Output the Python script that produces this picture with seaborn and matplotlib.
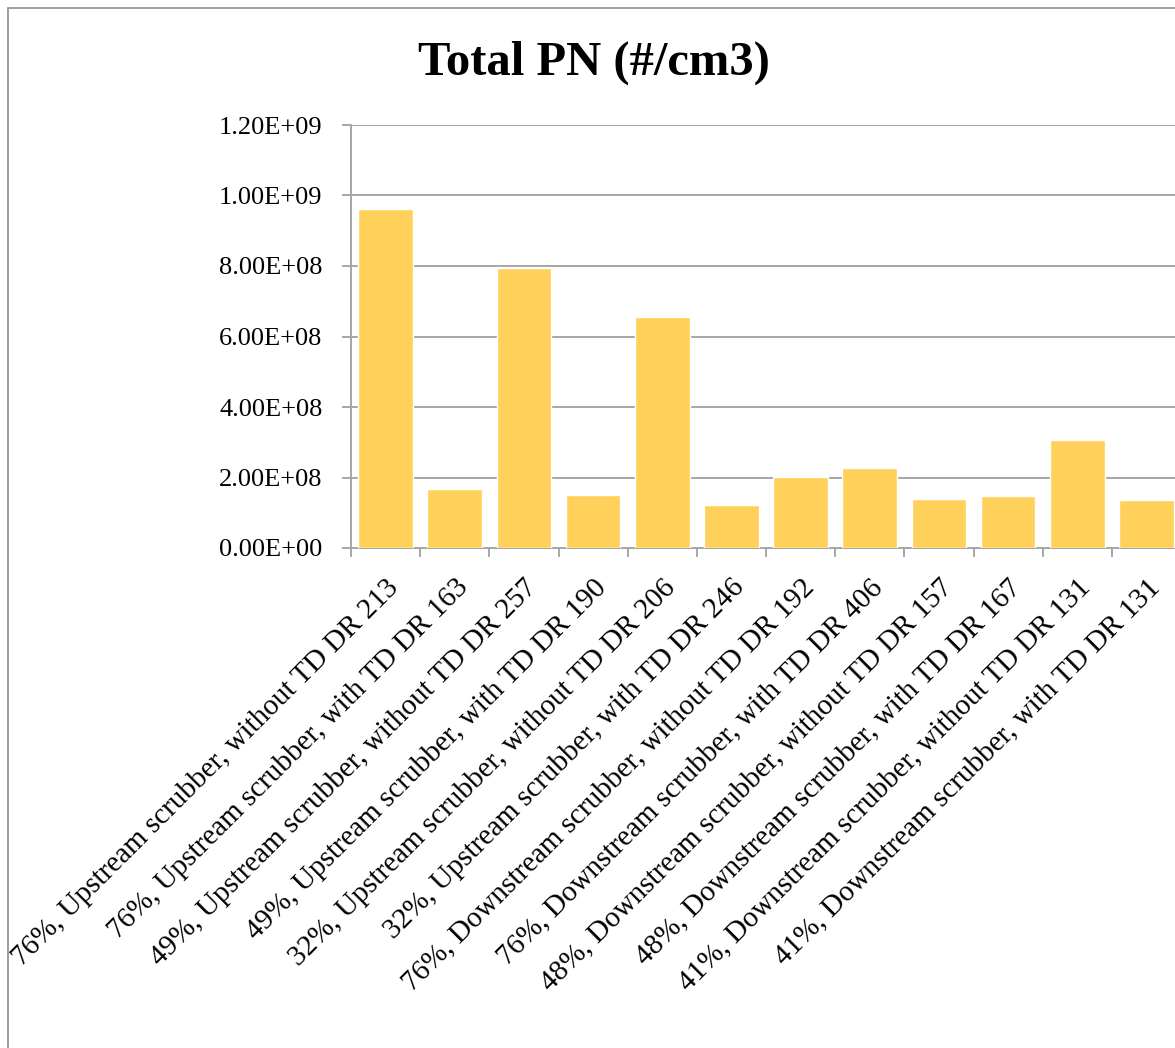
import numpy as np
import pandas as pd
import matplotlib
matplotlib.use("Agg")
import matplotlib.pyplot as plt
from matplotlib.patches import Rectangle
from matplotlib.ticker import FuncFormatter, MultipleLocator
import seaborn as sns

# Test conditions (engine load, scrubber position, thermodenuder, dilution ratio)
conditions = [
    "76%, Upstream scrubber, without TD DR 213",
    "76%, Upstream scrubber, with TD DR 163",
    "49%, Upstream scrubber, without TD DR 257",
    "49%, Upstream scrubber, with TD DR 190",
    "32%, Upstream scrubber, without TD DR 206",
    "32%, Upstream scrubber, with TD DR 246",
    "76%, Downstream scrubber, without TD DR 192",
    "76%, Downstream scrubber, with TD DR 406",
    "48%, Downstream scrubber, without TD DR 157",
    "48%, Downstream scrubber, with TD DR 167",
    "41%, Downstream scrubber, without TD DR 131",
    "41%, Downstream scrubber, with TD DR 131",
]

# Total particle number concentration (#/cm3)
total_pn = [
    9.62e8, 1.68e8, 7.94e8, 1.51e8, 6.56e8, 1.21e8,
    2.02e8, 2.27e8, 1.39e8, 1.47e8, 3.07e8, 1.36e8,
]

df = pd.DataFrame({"condition": conditions, "pn": total_pn})

sns.set_theme(style="white")
plt.rcParams["font.family"] = ["Liberation Serif", "DejaVu Serif"]

W, H = 1175, 1048
fig = plt.figure(figsize=(W / 100, H / 100), dpi=100)
fig.patch.set_facecolor("white")

# Plot area runs slightly past the right edge of the canvas
ax = fig.add_axes([351 / W, 1 - 548 / H, 830 / W, 423 / H])

bar_color = "#FFD05A"
grid_color = "#A6A6A6"

sns.barplot(data=df, x="condition", y="pn", color=bar_color, saturation=1,
            width=0.79, ax=ax, zorder=3)

ax.set_xlim(-0.5, len(conditions) - 0.5)
ax.set_ylim(0, 1.2e9)
ax.yaxis.set_major_locator(MultipleLocator(2e8))
ax.yaxis.set_major_formatter(FuncFormatter(lambda v, _: f"{v:.2E}"))
ax.yaxis.grid(True, color=grid_color, linewidth=1.4, zorder=0)
ax.set_axisbelow(True)

for side in ("top", "right"):
    ax.spines[side].set_visible(False)
for side in ("left", "bottom"):
    ax.spines[side].set_color(grid_color)
    ax.spines[side].set_linewidth(1.4)

ax.set_xlabel("")
ax.set_ylabel("")

ax.tick_params(axis="y", which="major", left=True, length=6.5, width=1.4,
               color=grid_color, pad=14, labelsize=19, labelcolor="black")

# Category labels at bar centres, tick marks at category boundaries
ax.set_xticks(np.arange(len(conditions)))
ax.set_xticklabels(conditions, rotation=45, ha="right",
                   rotation_mode="anchor", fontsize=21)
ax.set_xticks(np.arange(-0.5, len(conditions), 1), minor=True)
ax.tick_params(axis="x", which="major", bottom=True, length=0, pad=19,
               labelcolor="black")
ax.tick_params(axis="x", which="minor", bottom=True, length=6.5, width=1.4,
               color=grid_color)

fig.text(594 / W, 1 - 75 / H, "Total PN (#/cm3)", ha="center", va="baseline",
         fontsize=35, fontweight="bold", color="black")

# Chart frame
fig.patches.append(Rectangle((8 / W, -0.1), 1.2, 1 - 8 / H + 0.1,
                             transform=fig.transFigure, fill=False,
                             edgecolor="#8C8C8C", linewidth=1.2, zorder=0))

fig.savefig("out.png", dpi=100, facecolor="white")
